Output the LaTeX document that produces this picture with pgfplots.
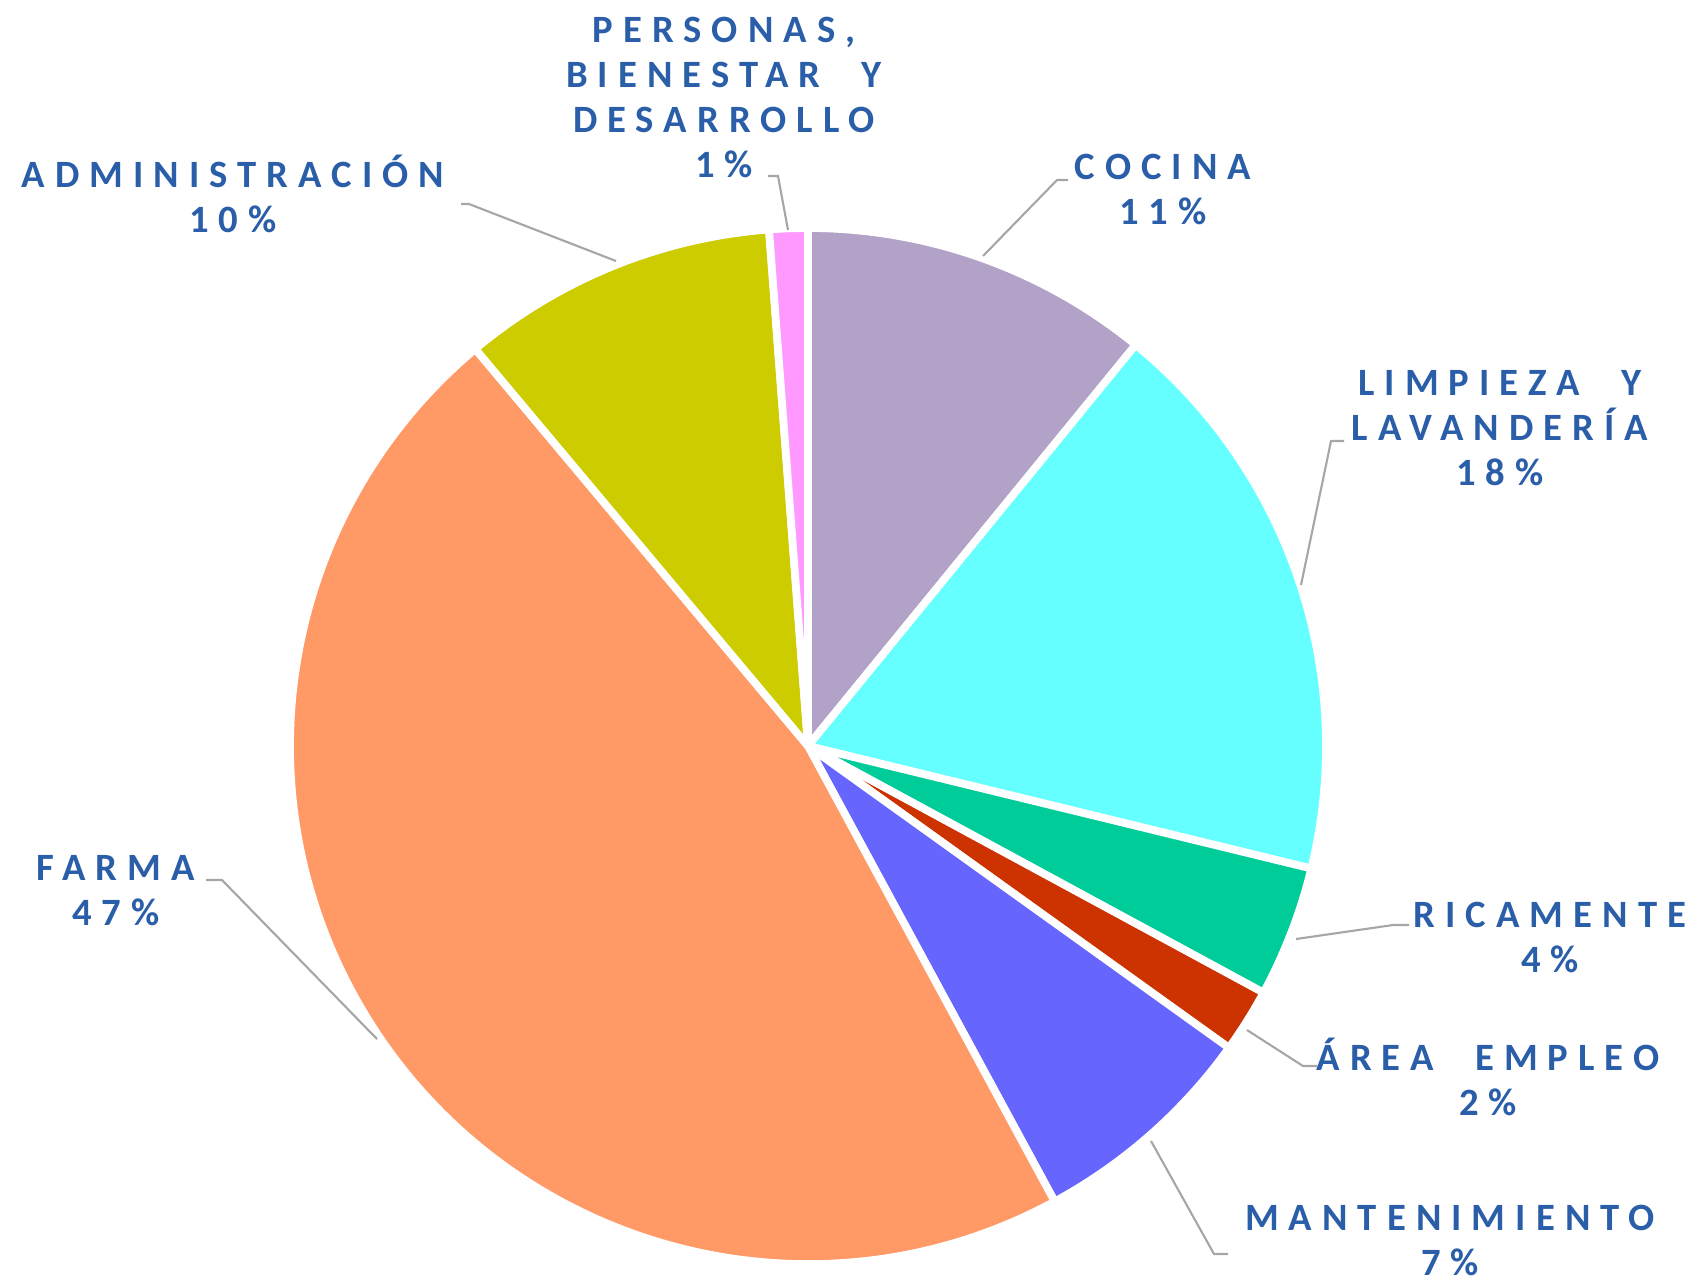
\documentclass[border=0pt]{standalone}
\usepackage{fontspec}
\usepackage{pgfplots}
\usepackage{pgfplotstable}
\pgfplotsset{compat=1.18}
\newfontfamily\labfont[LetterSpace=26, WordSpace=2.2]{Carlito}

\definecolor{slice0}{HTML}{B3A2C7}
\definecolor{slice1}{HTML}{66FFFF}
\definecolor{slice2}{HTML}{00CC99}
\definecolor{slice3}{HTML}{CC3300}
\definecolor{slice4}{HTML}{6666FF}
\definecolor{slice5}{HTML}{FF9966}
\definecolor{slice6}{HTML}{CCCC00}
\definecolor{slice7}{HTML}{FF99FF}
\definecolor{labblue}{HTML}{2A5EA8}
\definecolor{leader}{HTML}{A6A6A6}

\tikzset{lab/.style={font=\labfont\bfseries\fontsize{11}{12.8}\selectfont,
    text=labblue, align=center, inner sep=0pt}}

% share of each area, clockwise from the top
\pgfplotstableread{
area value
Cocina 10.9
Limpieza 17.9
Ricamente 4.1
AreaEmpleo 2.0
Mantenimiento 7.2
Farma 46.8
Administracion 9.9
Personas 1.2
}\datatable

\begin{document}
\begin{tikzpicture}
\useasboundingbox (0,0) rectangle (17cm,12.81cm);
\begin{axis}[
  scale only axis, width=17cm, height=12.81cm,
  xmin=0, xmax=1700, ymin=0, ymax=1281, y dir=reverse,
  hide axis, clip=false,
]
\def\cum{90}
\pgfplotsforeachungrouped \i in {0,...,7}{%
  \pgfplotstablegetelem{\i}{value}\of\datatable
  \pgfmathsetmacro\aa{\cum}%
  \pgfmathsetmacro\bb{\cum-3.6*\pgfplotsretval}%
  \pgfmathsetmacro\xs{808+518*cos(\aa)}%
  \pgfmathsetmacro\ys{746-518*sin(\aa)}%
  \edef\temp{\noexpand\fill[fill=slice\i, draw=white, line width=2.2pt, line join=round]
    (axis cs:808,746) -- (axis cs:\xs,\ys)
    arc[start angle=\aa, end angle=\bb, radius=5.18cm] -- cycle;}%
  \temp
  \let\cum\bb
}

% leader lines
\draw[leader, line width=0.6pt] (axis cs:768,176) -- (axis cs:778,176) -- (axis cs:788,230);
\draw[leader, line width=0.6pt] (axis cs:461,204) -- (axis cs:469,204) -- (axis cs:616,261);
\draw[leader, line width=0.6pt] (axis cs:1068,180) -- (axis cs:1057,180) -- (axis cs:983,256);
\draw[leader, line width=0.6pt] (axis cs:1344,441) -- (axis cs:1331,441) -- (axis cs:1301,585);
\draw[leader, line width=0.6pt] (axis cs:1409,925) -- (axis cs:1393,925) -- (axis cs:1296,939);
\draw[leader, line width=0.6pt] (axis cs:1317,1066) -- (axis cs:1303,1066) -- (axis cs:1247,1030);
\draw[leader, line width=0.6pt] (axis cs:1228,1254) -- (axis cs:1214,1254) -- (axis cs:1151,1141);
\draw[leader, line width=0.6pt] (axis cs:206,880) -- (axis cs:222,880) -- (axis cs:377,1039);

% labels
\node[lab] at (axis cs:724,97) {PERSONAS,\\BIENESTAR Y\\DESARROLLO\\1\%};
\node[lab] at (axis cs:233,194) {ADMINISTRACIÓN\\10\%};
\node[lab] at (axis cs:1163,189) {COCINA\\11\%};
\node[lab] at (axis cs:1500,428) {LIMPIEZA Y\\LAVANDERÍA\\18\%};
\node[lab] at (axis cs:1550,937) {RICAMENTE\\4\%};
\node[lab] at (axis cs:1488,1077) {ÁREA EMPLEO\\2\%};
\node[lab] at (axis cs:1450,1240) {MANTENIMIENTO\\7\%};
\node[lab] at (axis cs:116,891) {FARMA\\47\%};
\end{axis}
\end{tikzpicture}
\end{document}
